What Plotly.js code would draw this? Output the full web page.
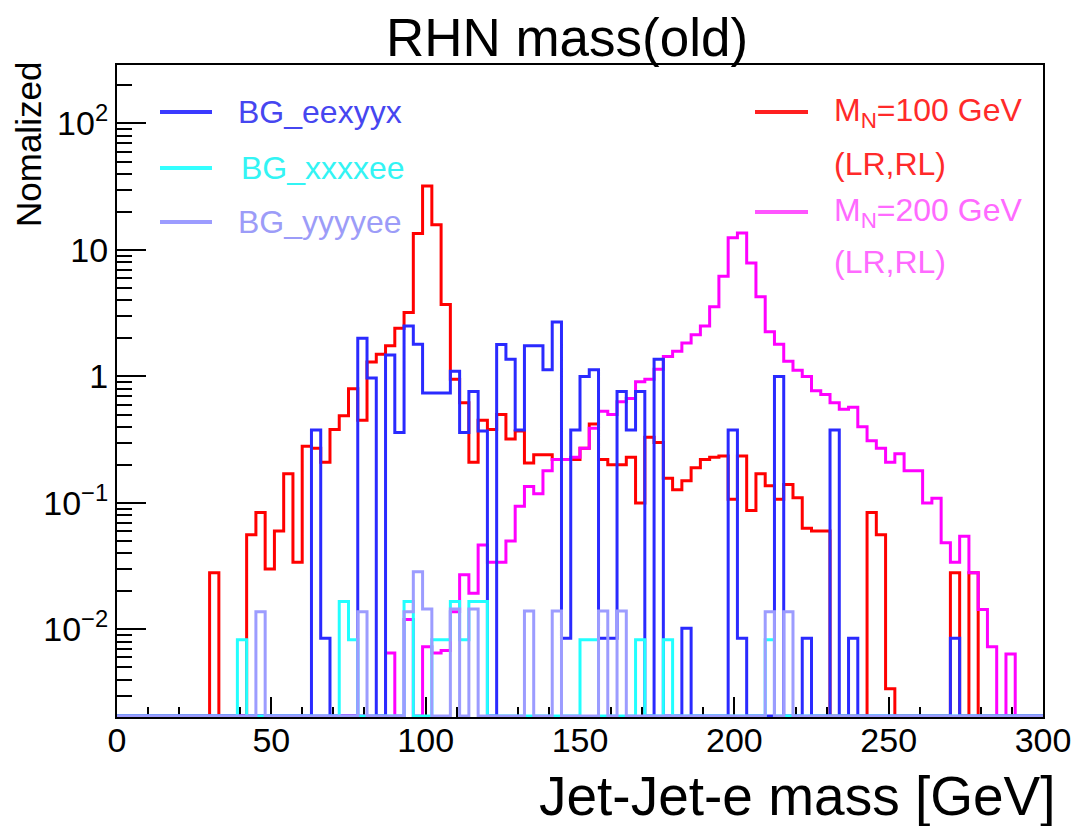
<!DOCTYPE html>
<html>
<head>
<meta charset="utf-8">
<script src="https://cdn.plot.ly/plotly-3.0.1.min.js"></script>
<style>html,body{margin:0;padding:0;background:#fff;}#chart{width:1073px;height:826px;}</style>
</head>
<body>
<div id="chart"></div>
<script>
// Histogram binning: 100 bins of 3 GeV from 0 to 300
const binLow = 0, binWidth = 3, nBins = 100;

// M_N = 100 GeV (LR,RL)
const sigM100 = [
  0,0,0,0,0,0,0,0,0,0,
  0.028,0,0,0,0.056,0.084,0.030,0.060,0.17,0.034,
  0.28,0.27,0.21,0.38,0.49,0.80,0.45,1.3,1.5,1.75,
  2.4,3.2,13.5,32,15.8,3.7,0.95,0.62,0.21,0.45,
  0.38,0.5,0.32,0.37,0.207,0.24,0.24,0.22,0.22,0.22,
  0.27,0.42,0.22,0.2,0.2,0.23,0.1,0.33,0.3,0.157,
  0.127,0.15,0.19,0.22,0.23,0.235,0.107,0.235,0.087,0.17,
  0.137,0.107,0.14,0.11,0.063,0.06,0.06,0,0,0,
  0,0.084,0.056,0.0034,0,0,0,0,0,0,
  0.028,0,0.028,0,0,0,0,0,0,0
];
// M_N = 200 GeV (LR,RL)
const sigM200 = [
  0,0,0,0,0,0,0,0,0,0,
  0,0,0,0,0,0,0,0,0,0,
  0,0,0,0,0,0,0,0,0,0.0065,
  0,0.012,0,0.0073,0.0065,0.0068,0.0138,0.027,0.0193,0.0465,
  0.034,0.034,0.05,0.094,0.135,0.118,0.18,0.22,0.22,0.23,
  0.27,0.39,0.53,0.5,0.63,0.67,0.91,0.95,1.14,1.44,
  1.58,1.84,2.14,2.5,3.55,6.2,12.5,13.6,7.9,4.26,
  2.26,1.8,1.32,1.12,1.0,0.77,0.72,0.62,0.55,0.57,
  0.4,0.31,0.27,0.21,0.245,0.18,0.18,0.1,0.109,0.0485,
  0.034,0.0545,0.028,0.0144,0.0073,0,0.0064,0,0,0
];
// BG_eexyyx
const bgEexyyx = [
  0,0,0,0,0,0,0,0,0,0,
  0,0,0,0,0,0,0,0,0,0,
  0,0.378,0.0085,0,0,0,2.0,0.97,0,1.48,
  0.36,2.5,1.8,0.74,0.74,0.74,1.1,0.36,0.76,0.37,
  0,1.79,1.37,0.378,1.75,1.75,1.13,2.7,0.0085,0.378,
  1.0,1.13,0.0085,0.0085,0.76,0.378,0.76,0,1.37,0,
  0,0.0102,0,0,0,0,0.378,0.0085,0,0,
  0,1.0,0,0,0.0085,0,0,0.378,0,0.0085,
  0,0,0,0,0,0,0,0,0,0,
  0.0085,0,0,0,0,0,0,0,0,0
];
// BG_xxxxee
const bgXxxxee = [
  0,0,0,0,0,0,0,0,0,0,
  0,0,0,0.0083,0,0,0,0,0,0,
  0,0,0,0,0.0166,0.0083,0,0,0,0,
  0,0.0166,0,0,0.0083,0.0083,0.0166,0.0083,0.0166,0.0166,
  0,0,0,0,0,0,0,0,0,0,
  0.0083,0.0083,0,0,0,0,0.0083,0,0,0.0083,
  0,0,0,0,0,0,0,0,0,0,
  0.0083,0,0,0,0,0,0,0,0,0,
  0,0,0,0,0,0,0,0,0,0,
  0,0,0,0,0,0,0,0,0,0
];
// BG_yyyyee
const bgYyyyee = [
  0,0,0,0,0,0,0,0,0,0,
  0,0,0,0,0,0.0138,0,0,0,0,
  0,0,0,0,0,0,0.0138,0,0,0,
  0,0.0138,0.0286,0.0145,0,0,0.0145,0,0.0145,0,
  0,0,0,0,0.014,0,0,0.014,0,0,
  0,0,0.014,0,0.014,0,0,0,0,0,
  0,0,0,0,0,0,0,0,0,0,
  0.0138,0,0.0138,0,0,0,0,0,0,0,
  0,0,0,0,0,0,0,0,0,0,
  0,0,0,0,0,0,0,0,0,0
];

const xTickVals = [0,50,100,150,200,250,300];
const xTickText = ["0","50","100","150","200","250","300"];
const yTickVals = [0.01,0.1,1,10,100];
const yTickText = ["10<sup>\u22122</sup>","10<sup>\u22121</sup>","1","10","10<sup>2</sup>"];

const seriesNames = ["M_N=100 GeV","M_N=200 GeV","BG_eexyyx","BG_xxxxee","BG_yyyyee"];
const seriesColors = ["#ff0000","#ff00ff","#2a2aff","#22ffff","#9c9cff"];

// ---- axis setup ----
const Y_MIN = 0.00203, Y_MAX = 290;
const yRange = [Math.log10(Y_MIN), Math.log10(Y_MAX)];
const FLOOR = Math.pow(10, yRange[0] + 0.008);

const edges = [];
for (let i = 0; i <= nBins; i++) edges.push(binLow + i * binWidth);

function stepTrace(vals, name, color) {
  const xs = [edges[0]], ys = [FLOOR];
  for (let i = 0; i < nBins; i++) { xs.push(edges[i]); ys.push(vals[i] > 0 ? vals[i] : FLOOR); }
  xs.push(edges[nBins]); ys.push(vals[nBins-1] > 0 ? vals[nBins-1] : FLOOR);
  xs.push(edges[nBins]); ys.push(FLOOR);
  return {x: xs, y: ys, type: 'scatter', mode: 'lines', name: name,
          line: {shape: 'hv', color: color, width: 3}, showlegend: false, hoverinfo: 'skip'};
}

const traces = [
  stepTrace(sigM100, seriesNames[0], seriesColors[0]),
  stepTrace(sigM200, seriesNames[1], seriesColors[1]),
  stepTrace(bgEexyyx, seriesNames[2], seriesColors[2]),
  stepTrace(bgXxxxee, seriesNames[3], seriesColors[3]),
  stepTrace(bgYyyyee, seriesNames[4], seriesColors[4])
];

const xMinor = [];
for (let v = 10; v < 300; v += 10) if (v % 50 !== 0) xMinor.push(v);
const yMinor = [];
for (let d = -3; d <= 2; d++) for (let k = 2; k <= 9; k++) yMinor.push(k * Math.pow(10, d));

// pixel -> paper helpers for decorations
const PL = 117, PR = 1043, PT = 65, PB = 717;
const px = x => (x - PL) / (PR - PL);
const py = y => (PB - y) / (PB - PT);

const FONT = 'Liberation Sans, Arial, Helvetica, sans-serif';
const LEG_SIZE = 32;

const legendItems = [
  {x0: 160, x1: 212, y: 112, color: '#3a3aff', text: 'BG_eexyyx', tx: 236, tcolor: '#4646f0'},
  {x0: 160, x1: 212, y: 168, color: '#33ffff', text: 'BG_xxxxee', tx: 239, tcolor: '#33f4f4'},
  {x0: 160, x1: 212, y: 222, color: '#9c9cff', text: 'BG_yyyyee', tx: 236, tcolor: '#9c9cf8'},
  {x0: 755, x1: 808, y: 112, color: '#ff2020', text: 'M<sub>N</sub>=100 GeV', tx: 832, tcolor: '#ff2a2a'},
  {x0: 755, x1: 808, y: 212, color: '#ff55ff', text: 'M<sub>N</sub>=200 GeV', tx: 832, tcolor: '#ff6aff'}
];
const extraTexts = [
  {text: '(LR,RL)', tx: 832, y: 164, tcolor: '#ff2a2a'},
  {text: '(LR,RL)', tx: 832, y: 262, tcolor: '#ff6aff'}
];

const shapes = legendItems.map(it => ({
  type: 'line', xref: 'paper', yref: 'paper',
  x0: px(it.x0), x1: px(it.x1), y0: py(it.y), y1: py(it.y),
  line: {color: it.color, width: 4}
}));

const annotations = legendItems.map(it => ({
  xref: 'paper', yref: 'paper', x: px(it.tx), y: py(it.y),
  xanchor: 'left', yanchor: 'middle', showarrow: false,
  text: it.text, font: {family: FONT, size: LEG_SIZE, color: it.tcolor}
})).concat(extraTexts.map(it => ({
  xref: 'paper', yref: 'paper', x: px(it.tx), y: py(it.y),
  xanchor: 'left', yanchor: 'middle', showarrow: false,
  text: it.text, font: {family: FONT, size: LEG_SIZE, color: it.tcolor}
}))).concat([
  {xref: 'paper', yref: 'paper', x: px(29), y: py(145), textangle: -90,
   xanchor: 'center', yanchor: 'middle', showarrow: false,
   text: 'Nomalized', font: {family: FONT, size: 35, color: '#000'}},
  {xref: 'paper', yref: 'paper', x: px(1058), y: py(796),
   xanchor: 'right', yanchor: 'middle', showarrow: false,
   text: 'Jet-Jet-e mass [GeV]', font: {family: FONT, size: 55, color: '#000'}}
]);

const layout = {
  width: 1073, height: 826,
  margin: {l: PL, r: 1073 - PR, t: PT, b: 826 - PB, pad: 0},
  paper_bgcolor: '#fff', plot_bgcolor: '#fff',
  showlegend: false,
  title: {text: 'RHN mass(old)', font: {family: FONT, size: 53, color: '#000'},
          xref: 'paper', x: px(567), xanchor: 'center',
          yref: 'container', y: 1 - 37/826, yanchor: 'middle'},
  xaxis: {
    range: [0, 300], tickmode: 'array', tickvals: xTickVals, ticktext: xTickText,
    ticks: 'inside', ticklen: 20, tickwidth: 2, tickcolor: '#000',
    showline: true, linecolor: '#000', linewidth: 2, mirror: true,
    showgrid: false, zeroline: false, layer: 'below traces',
    ticklabelstandoff: -8,
    tickfont: {family: FONT, size: 34, color: '#000'},
    minor: {tickmode: 'array', tickvals: xMinor, ticks: 'inside', ticklen: 10, tickwidth: 2, tickcolor: '#000', showgrid: false},
    title: {text: ''}
  },
  yaxis: {
    type: 'log', range: yRange, tickmode: 'array', tickvals: yTickVals, ticktext: yTickText,
    ticks: 'inside', ticklen: 29, tickwidth: 2, tickcolor: '#000',
    showline: true, linecolor: '#000', linewidth: 2, mirror: true,
    showgrid: false, zeroline: false, layer: 'below traces',
    tickfont: {family: FONT, size: 34, color: '#000'},
    minor: {tickmode: 'array', tickvals: yMinor, ticks: 'inside', ticklen: 15, tickwidth: 2, tickcolor: '#000', showgrid: false},
    title: {text: ''}
  },
  shapes: shapes,
  annotations: annotations
};

Plotly.newPlot('chart', traces, layout, {displayModeBar: false, staticPlot: true});
</script>
</body>
</html>
